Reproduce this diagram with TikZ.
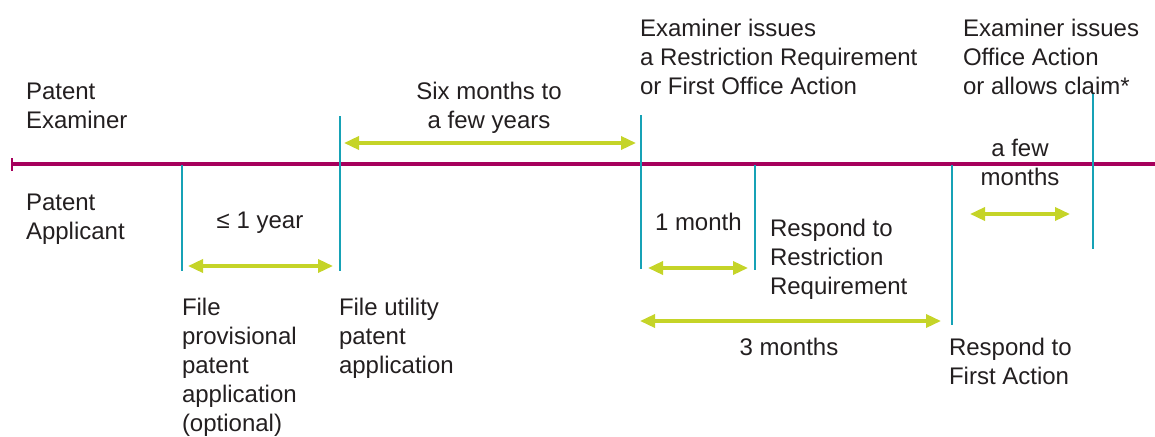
\documentclass[tikz,border=0pt]{standalone}
\usepackage{fontspec}
\setmainfont{Liberation Sans}
\usetikzlibrary{arrows.meta}
\definecolor{txt}{RGB}{35,31,32}
\definecolor{tline}{RGB}{166,0,92}
\definecolor{mark}{RGB}{22,162,182}
\definecolor{span}{RGB}{197,212,40}
\newcommand\mlleft[1]{\vtop{\baselineskip=29pt\halign{##\hfil\cr#1\crcr}}}
\newcommand\mlcenter[1]{\vtop{\baselineskip=29pt\halign{\hfil##\hfil\cr#1\crcr}}}
\begin{document}
\begin{tikzpicture}[x=1pt,y=-1pt,
  lab/.style={inner sep=0pt,outer sep=0pt,text=txt,font=\fontsize{24}{29}\selectfont,anchor=base west},
  clab/.style={lab,anchor=base},
  timeline/.style={draw=tline,line width=3.2pt},
  marker/.style={draw=mark,line width=2.8pt},
  spanarrow/.style={draw=span,line width=3.4pt,{Triangle[length=15pt,width=13pt]}-{Triangle[length=15pt,width=13pt]}}]
\useasboundingbox (0,0) rectangle (1155,436);
% timeline
\coordinate (tlA) at (12,164);
\coordinate (tlB) at (1155,164);
\coordinate (tickT) at (12,158);
\coordinate (tickB) at (12,171);
\draw[timeline] (tlA) -- (tlB);
\draw[draw=tline,line width=2.8pt] (tickT) -- (tickB);
% markers
\coordinate (m1t) at (182,165); \coordinate (m1b) at (182,271);
\coordinate (m2t) at (340,116); \coordinate (m2b) at (340,271);
\coordinate (m3t) at (641,115); \coordinate (m3b) at (641,269);
\coordinate (m4t) at (755,165); \coordinate (m4b) at (755,270);
\coordinate (m5t) at (952,165); \coordinate (m5b) at (952,325);
\coordinate (m6t) at (1093,94); \coordinate (m6b) at (1093,249);
\draw[marker] (m1t) -- (m1b);
\draw[marker] (m2t) -- (m2b);
\draw[marker] (m3t) -- (m3b);
\draw[marker] (m4t) -- (m4b);
\draw[marker] (m5t) -- (m5b);
\draw[marker] (m6t) -- (m6b);
% span arrows
\coordinate (a1l) at (188,266); \coordinate (a1r) at (333,266);
\coordinate (a2l) at (344,143); \coordinate (a2r) at (636,143);
\coordinate (a3l) at (648,268); \coordinate (a3r) at (748,268);
\coordinate (a4l) at (970,214); \coordinate (a4r) at (1070,214);
\coordinate (a5l) at (640,321); \coordinate (a5r) at (941,321);
\draw[spanarrow] (a1l) -- (a1r);
\draw[spanarrow] (a2l) -- (a2r);
\draw[spanarrow] (a3l) -- (a3r);
\draw[spanarrow] (a4l) -- (a4r);
\draw[spanarrow] (a5l) -- (a5r);
% labels
\node[lab] (pe) at (26,99) {\mlleft{Patent\cr Examiner}};
\node[lab] (pa) at (26,210) {\mlleft{Patent\cr Applicant}};
\node[clab] (year) at (260,228) {≤ 1 year};
\node[lab] (prov) at (182,315) {\mlleft{File\cr provisional\cr patent\cr application\cr (optional)}};
\node[lab] (util) at (339,315) {\mlleft{File utility\cr patent\cr application}};
\node[clab] (six) at (489,99) {\mlcenter{Six months to\cr a few years}};
\node[lab] (ex1) at (640,37) {\mlleft{Examiner issues\cr a Restriction Requirement\cr or First Office Action}};
\node[lab] (ex2) at (963,37) {\mlleft{Examiner issues\cr Office Action\cr or allows claim*}};
\node[clab] (few) at (1020,156) {\mlcenter{a few\cr months}};
\node[lab] (month) at (655,230) {1 month};
\node[lab] (resp1) at (770,236) {\mlleft{Respond to\cr Restriction\cr Requirement}};
\node[clab] (three) at (789,355) {3 months};
\node[lab] (resp2) at (949,355) {\mlleft{Respond to\cr First Action}};
\end{tikzpicture}
\end{document}
